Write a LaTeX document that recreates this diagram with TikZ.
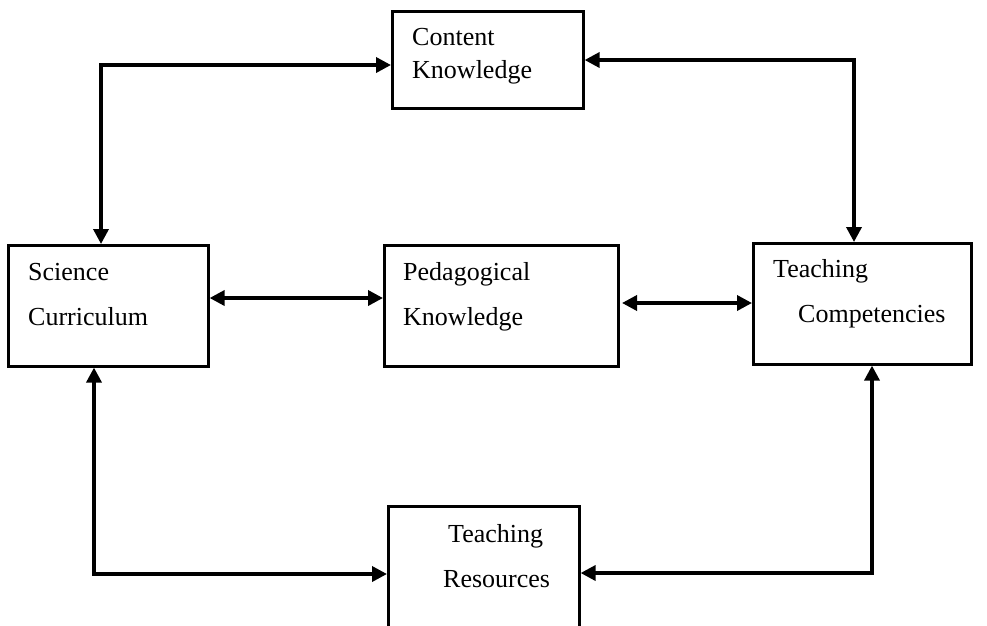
\documentclass[tikz,border=0pt]{standalone}
\usepackage{fontspec}
\setmainfont{Liberation Serif}
\usetikzlibrary{arrows.meta}
\tikzset{
  box/.style={draw, line width=2.6pt, anchor=north west, inner sep=0pt},
  lbl/.style={anchor=base west, inner sep=0pt, font=\fontsize{26}{30}\selectfont},
  link/.style={line width=3.5pt, {Triangle[length=15pt,width=15pt]}-{Triangle[length=15pt,width=15pt]}}
}
\begin{document}
\begin{tikzpicture}[x=1pt, y=-1pt]
    \useasboundingbox (0,0) rectangle (987,625);
    \clip (0,0) rectangle (987,625);
    % boxes
    \node [box, minimum width=191pt, minimum height=97pt] (ck) at (391,10) {};
    \node [box, minimum width=200pt, minimum height=121pt] (sc) at (7,244) {};
    \node [box, minimum width=234pt, minimum height=121pt] (pk) at (383,244) {};
    \node [box, minimum width=218pt, minimum height=121pt] (tc) at (752,242) {};
    \node [box, minimum width=191pt, minimum height=140pt] (tr) at (387,505) {};
    % texts
    \node [lbl] (ck1) at (412,45) {Content};
    \node [lbl] (ck2) at (412,78) {Knowledge};
    \node [lbl] (sc1) at (28,280) {Science};
    \node [lbl] (sc2) at (28,325) {Curriculum};
    \node [lbl] (pk1) at (403,280) {Pedagogical};
    \node [lbl] (pk2) at (403,325) {Knowledge};
    \node [lbl] (tc1) at (773,277) {Teaching};
    \node [lbl] (tc2) at (798,322) {Competencies};
    \node [lbl] (tr1) at (448,542) {Teaching};
    \node [lbl] (tr2) at (443,587) {Resources};
    % connectors
    \coordinate (c1) at (101,65);
    \coordinate (c2) at (854,60);
    \coordinate (c3) at (0,298);
    \coordinate (c4) at (622,303);
    \coordinate (c5) at (94,574);
    \coordinate (c6) at (872,573);
    \draw [link] (ck.west |- c1) -| (c1 |- sc.north);
    \draw [link] (ck.east |- c2) -| (c2 |- tc.north);
    \draw [link] (sc.east |- c3) -- (pk.west |- c3);
    \draw [link] (c4) -- (tc.west |- c4);
    \draw [link] (c5 |- sc.south) |- (tr.west |- c5);
    \draw [link] (c6 |- tc.south) |- (tr.east |- c6);
\end{tikzpicture}
\end{document}
